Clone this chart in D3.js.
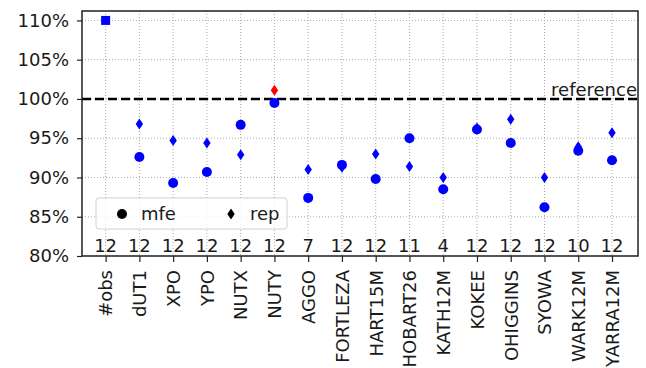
<!DOCTYPE html>
<html>
<head>
<meta charset="utf-8">
<script src="https://cdn.jsdelivr.net/npm/d3@7"></script>
<style>
  body { margin: 0; background: #fff; }
  text { font-family: "DejaVu Sans", sans-serif; fill: #1a1a1a; }
</style>
</head>
<body>
<svg id="chart" width="646" height="368"></svg>
<script>
// chart data
var categories = ["#obs", "dUT1", "XPO", "YPO", "NUTX", "NUTY", "AGGO", "FORTLEZA",
  "HART15M", "HOBART26", "KATH12M", "KOKEE", "OHIGGINS", "SYOWA", "WARK12M", "YARRA12M"];
var nObs = [12, 12, 12, 12, 12, 12, 7, 12, 12, 11, 4, 12, 12, 12, 10, 12];
// ratio in percent, index 0 (#obs) has no mfe/rep value
var mfe = [null, 92.6, 89.3, 90.7, 96.7, 99.5, 87.4, 91.6, 89.8, 95.0, 88.5, 96.1, 94.4, 86.2, 93.4, 92.2];
var rep = [null, 96.8, 94.7, 94.4, 92.9, 101.1, 91.0, 91.3, 93.0, 91.4, 90.0, 96.3, 97.4, 90.0, 93.9, 95.7];
var obsMarker = 110; // square drawn in the #obs column
var yTicks = [80, 85, 90, 95, 100, 105, 110];
var refValue = 100;

var svg = d3.select("#chart");
var mLeft = 82, mRight = 638, mTop = 11, mBottom = 256;
var fs = 18;

var x = d3.scaleLinear().domain([-0.7, 15.77]).range([mLeft, mRight]);
var y = d3.scaleLinear().domain([80, 111.2]).range([mBottom, mTop]);

// grid
var grid = svg.append("g").attr("stroke", "#aaa").attr("stroke-width", 1).attr("stroke-dasharray", "1,2");
grid.selectAll("line.v").data(categories).enter().append("line")
  .attr("x1", function(d, i) { return x(i); })
  .attr("x2", function(d, i) { return x(i); })
  .attr("y1", mTop).attr("y2", mBottom);
grid.selectAll("line.h").data(yTicks).enter().append("line")
  .attr("x1", mLeft).attr("x2", mRight)
  .attr("y1", function(d) { return y(d); })
  .attr("y2", function(d) { return y(d); });

// reference line
svg.append("line")
  .attr("x1", mLeft).attr("x2", mRight)
  .attr("y1", y(refValue)).attr("y2", y(refValue))
  .attr("stroke", "#000").attr("stroke-width", 2.5).attr("stroke-dasharray", "9,4");
svg.append("text")
  .attr("x", mRight - 1).attr("y", y(refValue) - 3)
  .attr("text-anchor", "end").attr("font-size", fs)
  .text("reference");

// axes
var yAxis = d3.axisLeft(y).tickValues(yTicks).tickSize(5).tickPadding(8)
  .tickFormat(function(d) { return d + "%"; });
var gy = svg.append("g").attr("transform", "translate(" + mLeft + ",0)").call(yAxis);
gy.select(".domain").remove();
gy.selectAll("text").attr("font-size", fs).attr("font-family", "DejaVu Sans");
gy.selectAll("line").attr("stroke", "#222").attr("stroke-width", 1.2);

var xAxis = d3.axisBottom(x).tickValues(d3.range(categories.length)).tickSize(6)
  .tickFormat(function(i) { return categories[i]; });
var gx = svg.append("g").attr("transform", "translate(0," + mBottom + ")").call(xAxis);
gx.select(".domain").remove();
gx.selectAll("line").attr("stroke", "#222").attr("stroke-width", 1.2);
gx.selectAll("text")
  .attr("font-size", fs).attr("font-family", "DejaVu Sans")
  .attr("transform", "rotate(-90)")
  .attr("text-anchor", "end")
  .attr("x", -14).attr("y", 0).attr("dy", "0.35em");

// frame
svg.append("rect").attr("x", mLeft).attr("y", mTop)
  .attr("width", mRight - mLeft).attr("height", mBottom - mTop)
  .attr("fill", "none").attr("stroke", "#222").attr("stroke-width", 1.5);

// observation counts
svg.append("g").selectAll("text").data(nObs).enter().append("text")
  .attr("x", function(d, i) { return x(i); })
  .attr("y", mBottom - 4)
  .attr("text-anchor", "middle").attr("font-size", fs)
  .text(function(d) { return d; });

var diamond = function(cx, cy) {
  return "M" + cx + "," + (cy - 5.5) + "L" + (cx + 3.7) + "," + cy + "L" + cx + "," + (cy + 5.5) + "L" + (cx - 3.7) + "," + cy + "Z";
};

// #obs marker
svg.append("rect")
  .attr("x", x(0) - 4.5).attr("y", y(obsMarker) - 4.5)
  .attr("width", 9).attr("height", 9).attr("fill", "#0000ff");

// mfe circles
svg.append("g").selectAll("circle")
  .data(mfe.map(function(v, i) { return {i: i, v: v}; }).filter(function(d) { return d.v !== null; }))
  .enter().append("circle")
  .attr("cx", function(d) { return x(d.i); })
  .attr("cy", function(d) { return y(d.v); })
  .attr("r", 5).attr("fill", "#0000ff");

// rep diamonds (above 100% in red)
svg.append("g").selectAll("path")
  .data(rep.map(function(v, i) { return {i: i, v: v}; }).filter(function(d) { return d.v !== null; }))
  .enter().append("path")
  .attr("d", function(d) { return diamond(x(d.i), y(d.v)); })
  .attr("fill", function(d) { return d.v > refValue ? "#ff0000" : "#0000ff"; });

// legend
var lg = svg.append("g");
lg.append("rect").attr("x", 96).attr("y", 198).attr("width", 191).attr("height", 31)
  .attr("rx", 3).attr("fill", "#fff").attr("fill-opacity", 0.8)
  .attr("stroke", "#d0d0d0").attr("stroke-width", 1);
lg.append("circle").attr("cx", 122).attr("cy", 214).attr("r", 5).attr("fill", "#000");
lg.append("text").attr("x", 141).attr("y", 220).attr("font-size", fs).text("mfe");
lg.append("path").attr("d", diamond(231, 214)).attr("fill", "#000");
lg.append("text").attr("x", 250).attr("y", 220).attr("font-size", fs).text("rep");
</script>
</body>
</html>
